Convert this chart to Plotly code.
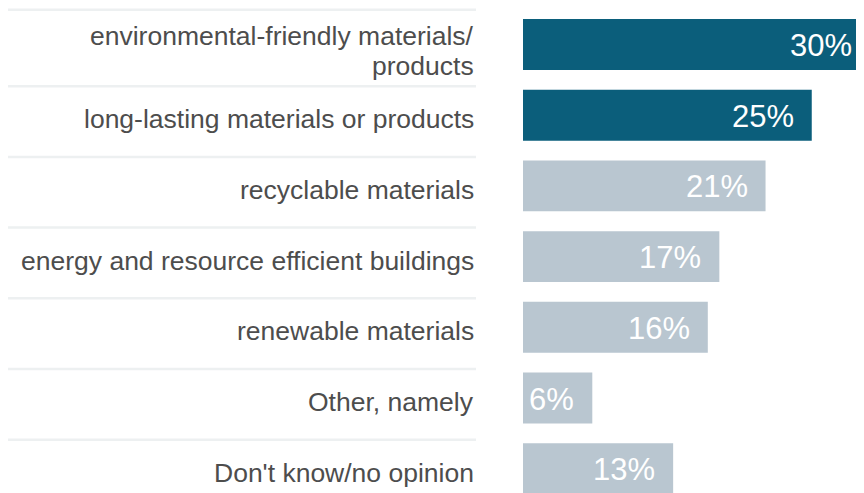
import plotly.graph_objects as go

categories = [
    "environmental-friendly materials/<br>products",
    "long-lasting materials or products",
    "recyclable materials",
    "energy and resource efficient buildings",
    "renewable materials",
    "Other, namely",
    "Don't know/no opinion",
]
values = [30, 25, 21, 17, 16, 6, 13]
highlight = [True, True, False, False, False, False, False]

DARK = "#0b5e7b"
LIGHT = "#b9c6d0"
OFF = 8  # page body margin
W, H = 864, 493 - OFF
x0_px = 523 - OFF
px_per_unit = 11.55
FONT = "Liberation Sans, Arial, sans-serif"

colors = [DARK if h else LIGHT for h in highlight]

fig = go.Figure()
fig.add_trace(go.Bar(
    x=values, y=categories, orientation="h",
    marker=dict(color=colors, line=dict(width=0)),
    width=0.72, hoverinfo="skip",
))

annotations = []
for c, v in zip(categories, values):
    annotations.append(dict(
        x=v, y=c, xref="x", yref="y", text=f"{v}%", showarrow=False,
        xanchor="right", yanchor="middle", xshift=-16, yshift=-1,
        font=dict(family=FONT, size=31, color="white"),
    ))
    lines = c.split("<br>")
    if len(lines) == 1:
        shifts = [-4]
    else:
        shifts = [9, -21]
    for line, ys in zip(lines, shifts):
        annotations.append(dict(
            x=(476 - OFF) / W, y=c, xref="paper", yref="y", text=line, showarrow=False,
            xanchor="right", yanchor="middle", align="right", yshift=ys,
            font=dict(family=FONT, size=26.5, color="#4d4d4d"),
        ))

shapes = []
n = len(categories)
sep_positions = [-0.49] + [i + 0.59 for i in range(n - 1)]
for yp in sep_positions:
    shapes.append(dict(
        type="line", xref="paper", yref="y", x0=0, x1=(476 - OFF) / W, y0=yp, y1=yp,
        line=dict(color="#edf0f1", width=2.5), layer="below",
    ))

pitch = 70.7
c0 = 44.5 - OFF
y_top = -c0 / pitch
y_bot = (H - c0) / pitch

fig.update_layout(
    width=W, height=H,
    margin=dict(l=0, r=0, t=0, b=0),
    paper_bgcolor="white", plot_bgcolor="white",
    showlegend=False,
    xaxis=dict(domain=[x0_px / W, 1], range=[0, (W - x0_px) / px_per_unit],
               visible=False, fixedrange=True),
    yaxis=dict(range=[y_bot, y_top], showticklabels=False, showgrid=False,
               zeroline=False, showline=False, ticks="", fixedrange=True),
    annotations=annotations,
    shapes=shapes,
)

fig.write_html("out.html", config={"displayModeBar": False})
